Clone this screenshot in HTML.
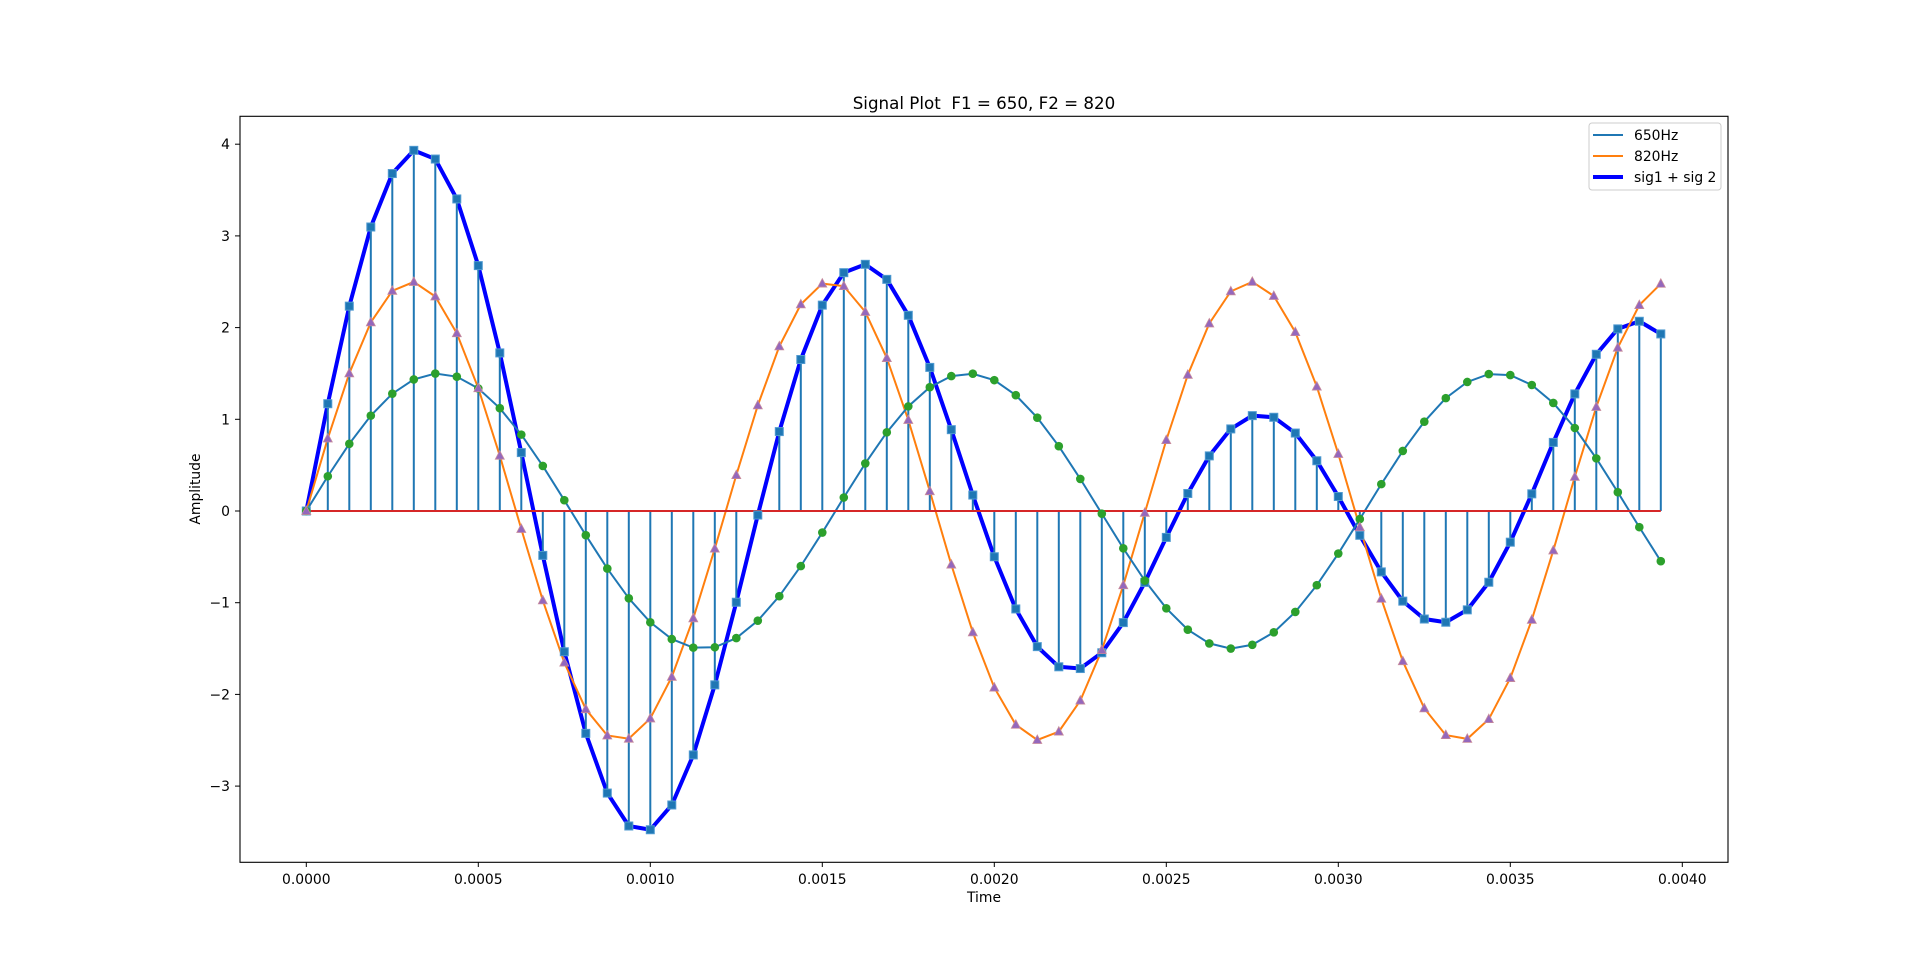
<!DOCTYPE html>
<html><head><meta charset="utf-8"><style>
html,body{margin:0;padding:0;background:#fff;}
svg{display:block;font-family:"DejaVu Sans","Liberation Sans",sans-serif;}
</style></head><body>
<svg id="chart" width="1920" height="969" xmlns="http://www.w3.org/2000/svg">
<rect x="0" y="0" width="1920" height="969" fill="#fff"/>
<text x="984" y="109" font-size="16.7" text-anchor="middle" xml:space="preserve" style="white-space:pre">Signal Plot  F1 = 650, F2 = 820</text>
<g id="plot"></g>
<rect x="240" y="116.3" width="1488" height="746" fill="none" stroke="#000" stroke-width="1.1"/>
<g id="ticks"></g>
<text x="984" y="902" font-size="13.9" text-anchor="middle">Time</text>
<text x="0" y="0" font-size="13.9" text-anchor="middle" transform="translate(200,489) rotate(-90)">Amplitude</text>
<g>
<rect x="1589" y="123" width="132" height="67" rx="3" fill="#fff" fill-opacity="0.8" stroke="#ccc"/>
<line x1="1593" y1="135" x2="1623" y2="135" stroke="#1f77b4" stroke-width="2"/>
<text x="1634" y="140" font-size="13.9">650Hz</text>
<line x1="1593" y1="156" x2="1623" y2="156" stroke="#ff7f0e" stroke-width="2"/>
<text x="1634" y="161" font-size="13.9">820Hz</text>
<line x1="1593" y1="177" x2="1623" y2="177" stroke="#0000ff" stroke-width="4"/>
<text x="1634" y="182" font-size="13.9">sig1 + sig 2</text>
</g>
</svg>
<script>
const times = [];
for (let i = 0; i < 64; i++) times.push(i * 0.0000625);
const sig1 = [0,0.379,0.733,1.040,1.279,1.435,1.499,1.465,1.337,1.121,0.833,0.491,0.118,-0.264,-0.628,-0.952,-1.214,-1.397,-1.490,-1.486,-1.386,-1.196,-0.929,-0.601,-0.235,0.147,0.519,0.858,1.141,1.350,1.471,1.497,1.427,1.263,1.018,0.707,0.350,-0.029,-0.407,-0.759,-1.061,-1.294,-1.444,-1.500,-1.459,-1.323,-1.101,-0.809,-0.464,-0.088,0.293,0.655,0.974,1.231,1.407,1.493,1.482,1.374,1.178,0.905,0.574,0.205,-0.176,-0.547];
const sig2 = [0,0.791,1.501,2.057,2.401,2.498,2.339,1.938,1.339,0.603,-0.196,-0.975,-1.653,-2.161,-2.448,-2.483,-2.262,-1.809,-1.170,-0.410,0.391,1.152,1.795,2.253,2.480,2.452,2.171,1.668,0.993,0.216,-0.584,-1.323,-1.926,-2.331,-2.497,-2.406,-2.068,-1.517,-0.810,-0.020,0.773,1.485,2.045,2.395,2.499,2.345,1.951,1.357,0.622,-0.177,-0.957,-1.638,-2.152,-2.444,-2.485,-2.270,-1.822,-1.187,-0.430,0.372,1.135,1.781,2.245,2.478];
const xTicks = [0,0.0005,0.0010,0.0015,0.0020,0.0025,0.0030,0.0035,0.0040];
const xTickLabels = ["0.0000","0.0005","0.0010","0.0015","0.0020","0.0025","0.0030","0.0035","0.0040"];
const yTicks = [-3,-2,-1,0,1,2,3,4];
const yTickLabels = ["\u22123","\u22122","\u22121","0","1","2","3","4"];

const NS = "http://www.w3.org/2000/svg";
const X = t => 306.3 + t * 344000;
const Y = v => 511 - v * 91.7;
const sum = sig1.map((v, i) => v + sig2[i]);
const plot = document.getElementById('plot');
const ticks = document.getElementById('ticks');
function mk(tag, attrs, parent) {
  const e = document.createElementNS(NS, tag);
  for (const k in attrs) e.setAttribute(k, attrs[k]);
  parent.appendChild(e);
  return e;
}
function pts(arr) { return arr.map((v, i) => X(times[i]).toFixed(2) + ',' + Y(v).toFixed(2)).join(' '); }

let e;
e = mk('polyline', {points: pts(sum), fill: 'none', stroke: '#0000ff', 'stroke-width': 4, 'stroke-linejoin': 'round'}, plot);


e = mk('polyline', {points: pts(sig2), fill: 'none', stroke: '#ff7f0e', 'stroke-width': 2}, plot);


e = mk('polyline', {points: pts(sig1), fill: 'none', stroke: '#1f77b4', 'stroke-width': 2}, plot);


sum.forEach((v, i) => {
  const s = mk('line', {x1: X(times[i]), x2: X(times[i]), y1: Y(0), y2: Y(v), stroke: '#1f77b4', 'stroke-width': 2}, plot);
  
  
});
e = mk('line', {x1: X(times[0]), x2: X(times[times.length - 1]), y1: Y(0), y2: Y(0), stroke: '#d62728', 'stroke-width': 2}, plot);


sum.forEach((v, i) => {
  const r = mk('rect', {x: X(times[i]) - 4, y: Y(v) - 4, width: 8, height: 8, fill: '#1f77b4', stroke: '#4f9ad0', 'stroke-width': 1}, plot);
  
  
});
sig1.forEach((v, i) => {
  const c = mk('circle', {cx: X(times[i]), cy: Y(v), r: 4.3, fill: '#2ca02c'}, plot);
  
  
});
sig2.forEach((v, i) => {
  const x = X(times[i]), y = Y(v);
  const p = mk('polygon', {points: `${x},${y - 5} ${x - 4.5},${y + 3.5} ${x + 4.5},${y + 3.5}`, fill: '#9467bd', stroke: '#c78a9a', 'stroke-width': 0.8}, plot);
  
  
});
xTicks.forEach((t, i) => {
  const l = mk('line', {x1: X(t), x2: X(t), y1: 862.3, y2: 867, stroke: '#000', 'stroke-width': 1}, ticks);
  
  
  const tx = mk('text', {x: X(t), y: 884, 'font-size': 13.9, 'text-anchor': 'middle'}, ticks);
  tx.textContent = xTickLabels[i];
  
  
});
yTicks.forEach((v, i) => {
  const l = mk('line', {x1: 235, x2: 240, y1: Y(v), y2: Y(v), stroke: '#000', 'stroke-width': 1}, ticks);
  
  
  const tx = mk('text', {x: 230, y: Y(v) + 5, 'font-size': 13.9, 'text-anchor': 'end'}, ticks);
  tx.textContent = yTickLabels[i];
  
  
});
</script>
</body></html>
